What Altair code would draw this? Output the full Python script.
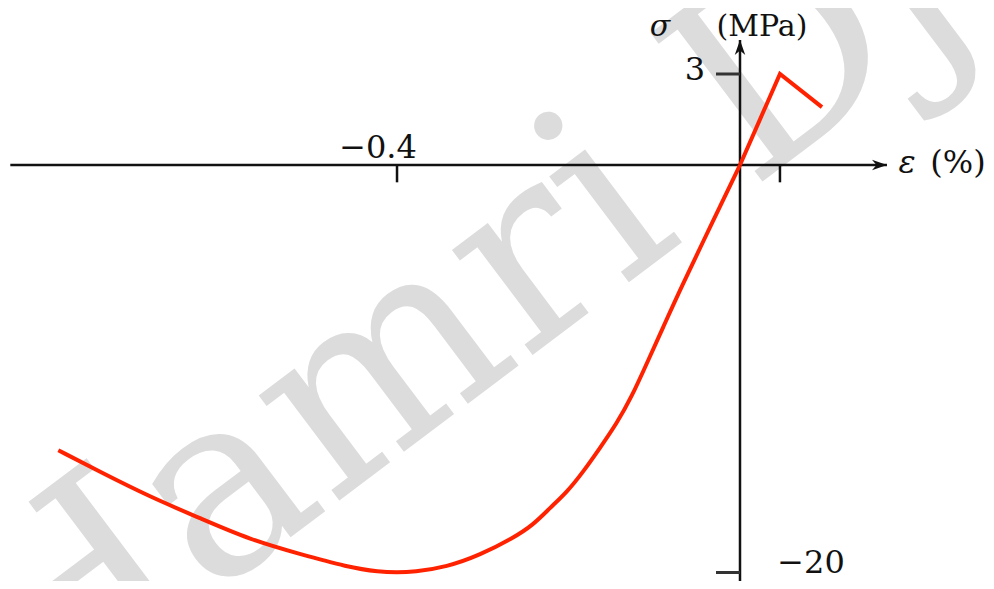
import altair as alt
import pandas as pd

# ---- data ----
# compression branch (strain in %, stress in MPa)
comp_eps = [-0.795, -0.746, -0.688, -0.630, -0.571, -0.513, -0.458, -0.420, -0.400,
            -0.381, -0.342, -0.303, -0.2647, -0.2414, -0.2216, -0.2017, -0.1831,
            -0.1633, -0.1434, -0.1265, -0.1085, -0.0895, -0.070, -0.0315, 0.0]
comp_sig = [-14.0, -15.07, -16.29, -17.33, -18.4, -19.1, -19.73, -19.98, -20.0,
            -19.98, -19.73, -19.14, -18.31, -17.67, -16.83, -16.05, -15.07,
            -13.89, -12.66, -11.39, -9.72, -7.95, -6.13, -2.75, 0.0]
# tension branch
tens_eps = [0.0, 0.0466, 0.0956]
tens_sig = [0.0, 3.0, 1.91]

# axes
x_axis_eps = [-0.851, 0.1714]
y_axis_sig = [-21.5, 4.12]
x_tick_eps = [-0.4, 0.0466]
x_tick_len = -0.85
y_tick_sig = [3, -20]
y_tick_len = -0.028

W, H = 978, 573
xs = alt.Scale(domain=[-0.8537, 0.2869], range=[0, W], nice=False, zero=False)
ys = alt.Scale(domain=[-20, 0, 3], range=[564.5, 157, 66], nice=False, zero=False)


def X(f):
    return alt.X(f, type="quantitative", scale=xs, axis=None)


def Y(f):
    return alt.Y(f, type="quantitative", scale=ys, axis=None)


FONT = "DejaVu Serif"
INK = "#111111"
RED = "#ff2200"

# watermark
wm = alt.Chart(pd.DataFrame({"t": ["Hamri Dj"]})).mark_text(
    align="left", baseline="alphabetic", angle=323, fontSize=255,
    font="DejaVu Serif", color="#dcdcdc"
).encode(text="t:N", x=alt.value(24), y=alt.value(724))

# axis lines
xline = alt.Chart(pd.DataFrame({"e1": [x_axis_eps[0]], "e2": [x_axis_eps[1]], "s": [0]})).mark_rule(
    color=INK, strokeWidth=2.5
).encode(x=X("e1"), x2="e2", y=Y("s"))
yline = alt.Chart(pd.DataFrame({"e": [0], "s1": [y_axis_sig[0]], "s2": [y_axis_sig[1]]})).mark_rule(
    color=INK, strokeWidth=2.5
).encode(x=X("e"), y=Y("s1"), y2="s2")

# arrow heads
xarrow = alt.Chart(pd.DataFrame({"e": [x_axis_eps[1]], "s": [0]})).mark_point(
    shape="M0,0L-1,-0.35L-0.7,0L-1,0.35Z", filled=True, color=INK, size=900, opacity=1
).encode(x=X("e"), y=Y("s"))
yarrow = alt.Chart(pd.DataFrame({"e": [0], "s": [y_axis_sig[1]]})).mark_point(
    shape="M0,0L-0.35,1L0,0.7L0.35,1Z", filled=True, color=INK, size=900, opacity=1
).encode(x=X("e"), y=Y("s"))

# ticks
xt = alt.Chart(pd.DataFrame({"e": x_tick_eps, "s1": [0, 0], "s2": [x_tick_len] * 2})).mark_rule(
    color=INK, strokeWidth=2.5
).encode(x=X("e"), y=Y("s1"), y2="s2")
yt = alt.Chart(pd.DataFrame({"s": y_tick_sig, "e1": [y_tick_len] * 2, "e2": [0, 0]})).mark_rule(
    color="#333333", strokeWidth=3
).encode(x=X("e1"), x2="e2", y=Y("s"))

# curves
comp = alt.Chart(pd.DataFrame({"e": comp_eps, "s": comp_sig})).mark_line(
    color=RED, strokeWidth=4, interpolate="basis"
).encode(x=X("e"), y=Y("s"), order="e:Q")
tens = alt.Chart(pd.DataFrame({"e": tens_eps, "s": tens_sig})).mark_line(
    color=RED, strokeWidth=4, interpolate="linear", strokeJoin="miter"
).encode(x=X("e"), y=Y("s"), order="e:Q")


# labels
def label(text, e, s, dx, dy, size=32, style="normal"):
    return alt.Chart(pd.DataFrame({"t": [text], "e": [e], "s": [s]})).mark_text(
        align="center", baseline="alphabetic", dx=dx, dy=dy, fontSize=size,
        font=FONT, color=INK, fontStyle=style
    ).encode(x=X("e"), y=Y("s"), text="t:N")


lab_m04 = label("−0.4", -0.4, 0, -19, -7)
lab_3 = label("3", 0, 3, -45, 6)
lab_m20 = label("−20", 0, -20, 71, 0)
lab_sig = label("σ", 0, y_axis_sig[1], -80, -4, size=30, style="italic")
lab_mpa = label("(MPa)", 0, y_axis_sig[1], 22, -4, size=30)
lab_eps = label("ε", x_axis_eps[1], 0, 20, 8, style="italic")
lab_pct = label("(%)", x_axis_eps[1], 0, 71, 8)

chart = alt.layer(
    wm, xline, yline, xt, yt, comp, tens, xarrow, yarrow,
    lab_m04, lab_3, lab_m20, lab_sig, lab_mpa, lab_eps, lab_pct
).properties(
    width=W, height=H, padding=0, autosize=alt.AutoSizeParams(type="none")
).configure_view(stroke=None)

chart.save("out.html", embed_options={"renderer": "svg", "actions": False})
